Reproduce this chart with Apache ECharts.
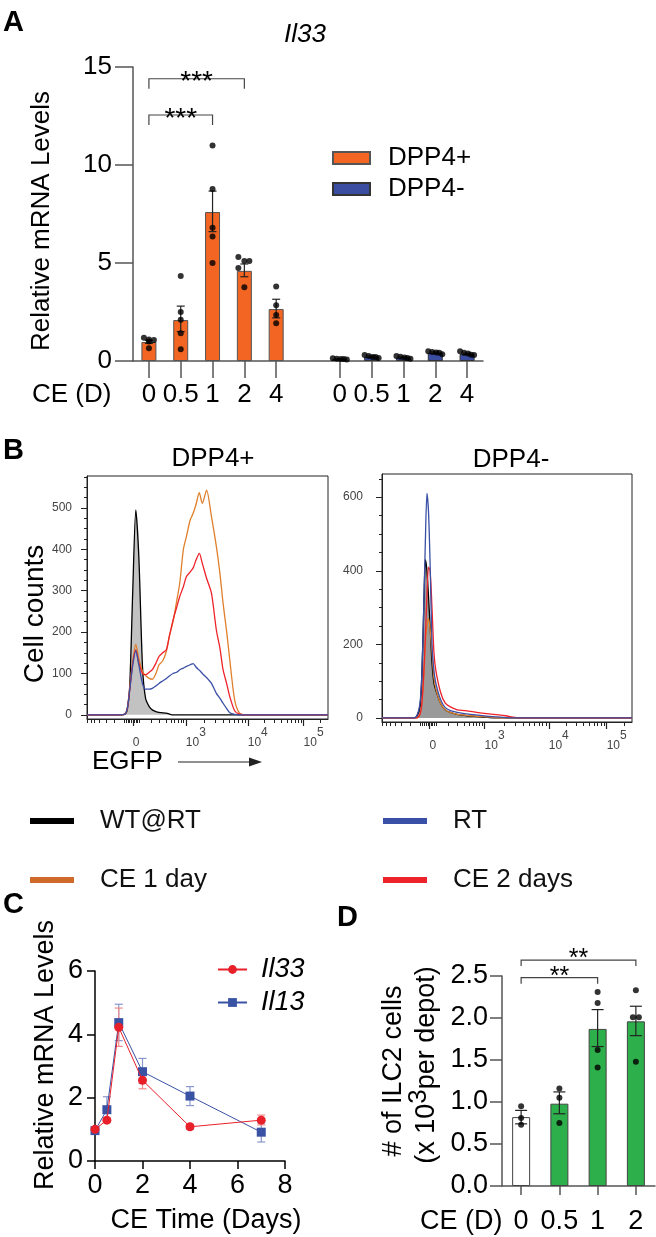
<!DOCTYPE html>
<html><head><meta charset="utf-8">
<script src="https://cdn.jsdelivr.net/npm/echarts@6/dist/echarts.min.js"></script>
<style>html,body{margin:0;padding:0;background:#fff}#c{width:656px;height:1237px}</style>
</head><body><div id="c"></div>
<script>
// ---------------- Panel A data ----------------
const catA = ['0','0.5','1','2','4','','0','0.5','1','2','4'];
const meanPos = [0.97, 2.09, 7.6, 4.6, 2.65];
const errPos = [[0.9,1.05],[1.5,2.8],[6.6,8.67],[4.3,4.95],[2.2,3.15]];
const ptsPos = [[1.19,1.1,1.07,1.0,0.65],[4.34,2.5,2.1,1.42,0.6],[11.0,8.77,6.8,6.35,5.0],[5.3,5.1,5.1,4.74,3.76],[3.8,2.85,2.35,1.93]];
const meanNeg = [0.1, 0.22, 0.18, 0.42, 0.36];
const errNeg = [[0.08,0.12],[0.18,0.26],[0.15,0.21],[0.38,0.46],[0.32,0.4]];
const ptsNeg = [[0.14,0.12,0.1,0.1,0.08],[0.3,0.25,0.2,0.2,0.15],[0.25,0.22,0.18,0.15,0.12],[0.5,0.46,0.44,0.42,0.35],[0.5,0.42,0.38,0.32,0.3]];
const sigA = [{from:0,to:2,y:12.55,label:'***'},{from:0,to:3,y:14.4,label:'***'}];

// ---------------- Panel B data (histograms, x in display units) ----------------
const dL = [-0.75,-0.2,-0.13,-0.09,-0.05,0,0.05,0.1,0.16,0.21,0.27,0.32,0.38,0.43,0.49,0.55,0.6,0.66,0.72,0.77,0.83,0.88,0.94,0.99,1.04,1.09,1.14,1.21,1.29,1.37,1.43,1.48,1.54,1.59,1.67,1.75,1.86,3.2];
const wtL  = [0,0,1,12,68,300,495,380,115,40,20,12,8,6,5,4,2,0,0,0,0,0,0,0,0,0,0,0,0,0,0,0,0,0,0,0,0,0];
const rtL  = [0,0,2,15,60,120,155,120,75,62,62,64,70,76,82,88,94,100,103,109,113,117,121,124,115,108,100,90,76,52,40,28,15,5,1,0,0,0];
const ce1L = [0,0,2,15,65,130,170,135,105,95,88,86,100,121,130,153,190,225,275,318,400,431,470,487,510,537,511,543,479,407,340,270,200,133,36,4,0,0];
const ce2L = [0,0,2,15,60,125,157,125,100,97,103,109,125,141,150,157,190,229,260,286,310,334,345,355,375,390,366,330,294,205,160,109,75,44,10,2,0,0];
const dR = [-0.75,-0.25,-0.2,-0.15,-0.12,-0.09,-0.065,-0.04,-0.015,0.01,0.04,0.07,0.1,0.175,0.25,0.33,0.44,0.55,0.65,0.8,0.9,1.05,1.2,1.3,1.4,3.2];
const wtR  = [0,0,5,30,120,300,430,400,330,250,150,95,75,40,22,15,10,7,5,3,2,0,0,0,0,0];
const rtR  = [0,0,5,40,120,300,480,610,560,420,200,130,95,50,28,20,15,12,10,7,5,3,1,0,0,0];
const ce1R = [0,0,0,10,40,110,200,250,270,240,180,110,80,40,22,15,10,8,6,4,3,1,0,0,0,0];
const ce2R = [0,0,0,10,40,120,220,330,410,400,300,180,130,70,40,30,22,20,18,14,12,9,6,3,0,0];
const xTickPosB = [0, 0.87, 1.885, 2.8];
const xTickLblB = ['0','10^3','10^4','10^5'];
const yTicksBL = [0,100,200,300,400,500];
const yTicksBR = [0,200,400,600];
const legendB = ['WT@RT','RT','CE 1 day','CE 2 days'];

// ---------------- Panel C data ----------------
const timeC = [0,0.5,1,2,4,7];
const il33 = [1.0,1.29,4.22,2.55,1.08,1.29];
const il33Err = [[0.95,1.05],[1.22,1.36],[3.62,4.83],[2.28,2.75],[1.0,1.15],[1.14,1.45]];
const il13 = [0.96,1.62,4.37,2.82,2.05,0.91];
const il13Err = [[0.88,1.04],[1.3,2.03],[3.8,4.95],[2.45,3.24],[1.75,2.35],[0.6,1.2]];

// ---------------- Panel D data ----------------
const catD = ['0','0.5','1','2'];
const meanD = [0.82,0.98,1.87,1.96];
const errD = [[0.74,0.9],[0.86,1.12],[1.66,2.1],[1.79,2.14]];
const ptsD = [[0.95,0.81,0.73],[1.16,1.05,0.75],[2.31,2.18,1.62,1.41],[2.33,2.01,2.01,1.48]];
const sigD = [{from:0,to:2,y:2.48,label:'**'},{from:0,to:3,y:2.69,label:'**'}];

// ---------------- styles ----------------
const FF = "'Liberation Sans', Arial, Helvetica, sans-serif";
const ORANGE = '#F26522', NAVY = '#3A4DA0', GREEN = '#2DB04B';
const C_WT = '#000000', C_RT = '#3A4FA6', C_CE1 = '#DF7F2C', C_CE2 = '#EE2229';
const jitPos = [[-5,0,5,0,0],[0,0,0,0,0],[0,0,0,0,0],[-6,5,0,-6,0],[0,0,0,0]];
const jitNeg = [-7,-3,1,4,7];
const jitD = [[0,0,0],[0,0,0],[0,0,0,0],[0,-3,3,0]];
const barColD = ['#ffffff', GREEN, GREEN, GREEN];

function errBar(cap, color, lw){
  return function(params, api){
    const x = api.value(0), lo = api.value(1), hi = api.value(2);
    const a = api.coord([x, lo]), b = api.coord([x, hi]);
    const h = cap/2, st = {stroke: color, lineWidth: lw};
    return {type:'group', children:[
      {type:'line', shape:{x1:a[0],y1:a[1],x2:b[0],y2:b[1]}, style:st},
      {type:'line', shape:{x1:b[0]-h,y1:b[1],x2:b[0]+h,y2:b[1]}, style:st},
      {type:'line', shape:{x1:a[0]-h,y1:a[1],x2:a[0]+h,y2:a[1]}, style:st}
    ]};
  };
}
function bracket(list, drop, font, dy){
  return function(params, api){
    const x1 = api.value(0), y = api.value(1), x2 = api.value(2);
    const p = api.coord([x1, y]), q = api.coord([x2, y]);
    return {type:'group', children:[
      {type:'polyline', shape:{points:[[p[0],p[1]+drop],[p[0],p[1]],[q[0],q[1]],[q[0],q[1]+drop]]}, style:{stroke:'#444', lineWidth:1.2, fill:null}},
      {type:'text', x:(p[0]+q[0])/2, y:p[1]+dy, style:{text:list[params.dataIndex].label, font:font, fill:'#000', align:'center', verticalAlign:'middle'}}
    ]};
  };
}
function minorTicksB(){
  const d3 = xTickPosB[1], d4 = xTickPosB[2], d5 = xTickPosB[3];
  const w2 = 0.82, w3 = d4 - d3, w4 = d5 - d4;
  const out = [];
  for (let m = 2; m <= 9; m++) {
    const l = Math.log10(m);
    out.push(d3 - (1 - l) * w2, -(d3 - (1 - l) * w2), d3 + l * w3, d4 + l * w4, d5 + l * w4);
  }
  [-0.14,-0.11,-0.08,-0.05,-0.025,0.025,0.05,0.08,0.11].forEach(v => out.push(v));
  return out.filter(v => v > -0.75 && v < 3.2);
}
const minorB = minorTicksB();
function supLabel(l){
  if (l.indexOf('^') >= 0) { const p = l.split('^'); return '{b|' + p[0] + '}{s|' + p[1] + '}'; }
  return '{b|' + l + '}';
}
const richB = {
  b: {fontSize: 12, fontFamily: FF, color: '#444', padding: [10,0,0,0]},
  s: {fontSize: 12, fontFamily: FF, color: '#444', padding: [0,0,10,0]}
};
const AX = '#555';
function catAxis(grid, data, tickLen, margin, fs, intervalFn){
  return {
    type:'category', gridIndex:grid, data:data, boundaryGap:true, position:'bottom',
    axisLine:{show:true, onZero:false, lineStyle:{color:AX, width:1.5}},
    axisTick:{show:true, alignWithLabel:true, interval: intervalFn || 0, length:tickLen, lineStyle:{color:AX, width:1.5}},
    axisLabel:{show:true, interval:0, fontSize:fs, fontFamily:FF, color:'#000', margin:margin, lineHeight:fs},
    splitLine:{show:false}
  };
}
function valAxis(grid, pos, min, max, interval, tickLen, margin, fs, color, fmt){
  const a = {
    type:'value', gridIndex:grid, position:pos, min:min, max:max, interval:interval,
    axisLine:{show:true, onZero:false, lineStyle:{color:color, width:1.5}},
    axisTick:{show:true, length:tickLen, lineStyle:{color:color, width:1.5}},
    axisLabel:{show:true, fontSize:fs, fontFamily:FF, color:'#000', margin:margin},
    splitLine:{show:false}
  };
  if (fmt) a.axisLabel.formatter = fmt;
  return a;
}

const axA = catAxis(0, catA.map((l,i)=> i + '|' + l), 17, 21, 26, (i)=> catA[i] !== '');
axA.axisLabel.formatter = v => String(v).split('|')[1];

const xAxes = [
  axA,
  {type:'value', gridIndex:1, position:'bottom', min:-0.75, max:3.2,
   axisLine:{show:true, onZero:false, lineStyle:{color:'#222', width:1}},
   axisTick:{show:true, customValues:xTickPosB, length:7, lineStyle:{color:'#222', width:1.2}},
   axisLabel:{show:true, customValues:xTickPosB, align:'left', margin:8, formatter:v=> supLabel(xTickLblB[xTickPosB.indexOf(v)] || ''), rich:richB},
   splitLine:{show:false}},
  {type:'value', gridIndex:1, position:'bottom', min:-0.75, max:3.2,
   axisLine:{show:false, onZero:false}, axisTick:{show:true, customValues:minorB, length:4, lineStyle:{color:'#222', width:1}},
   axisLabel:{show:false}, splitLine:{show:false}},
  {type:'value', gridIndex:2, position:'bottom', min:-0.75, max:3.2,
   axisLine:{show:true, onZero:false, lineStyle:{color:'#222', width:1}},
   axisTick:{show:true, customValues:xTickPosB, length:7, lineStyle:{color:'#222', width:1.2}},
   axisLabel:{show:true, customValues:xTickPosB, align:'left', margin:8, formatter:v=> supLabel(xTickLblB[xTickPosB.indexOf(v)] || ''), rich:richB},
   splitLine:{show:false}},
  {type:'value', gridIndex:2, position:'bottom', min:-0.75, max:3.2,
   axisLine:{show:false, onZero:false}, axisTick:{show:true, customValues:minorB, length:4, lineStyle:{color:'#222', width:1}},
   axisLabel:{show:false}, splitLine:{show:false}},
  valAxis(3, 'bottom', 0, 8, 2, 8, 11, 27, '#000'),
  catAxis(4, catD, 9, 22, 27)
];
function minorList(step, maxV, majors){
  const o = [];
  for (let v = step; v < maxV; v += step) if (majors.indexOf(v) < 0) o.push(v);
  return o;
}
const yAxes = [
  valAxis(0, 'left', 0, 15, 5, 18, 21, 26, AX),
  {type:'value', gridIndex:1, position:'left', min:-10, max:577,
   axisLine:{show:true, onZero:false, lineStyle:{color:'#222', width:1}},
   axisTick:{show:true, customValues:yTicksBL, length:6, lineStyle:{color:'#222'}},
   axisLabel:{show:true, customValues:yTicksBL, fontSize:12, fontFamily:FF, color:'#444', margin:15},
   splitLine:{show:false}},
  {type:'value', gridIndex:1, position:'left', min:-10, max:577,
   axisLine:{show:false, onZero:false}, axisTick:{show:true, customValues:minorList(25, 577, yTicksBL), length:3, lineStyle:{color:'#222'}},
   axisLabel:{show:false}, splitLine:{show:false}},
  {type:'value', gridIndex:2, position:'left', min:-11, max:663,
   axisLine:{show:true, onZero:false, lineStyle:{color:'#222', width:1}},
   axisTick:{show:true, customValues:yTicksBR, length:6, lineStyle:{color:'#222'}},
   axisLabel:{show:true, customValues:yTicksBR, fontSize:12, fontFamily:FF, color:'#444', margin:19},
   splitLine:{show:false}},
  {type:'value', gridIndex:2, position:'left', min:-11, max:663,
   axisLine:{show:false, onZero:false}, axisTick:{show:true, customValues:minorList(50, 663, yTicksBR), length:3, lineStyle:{color:'#222'}},
   axisLabel:{show:false}, splitLine:{show:false}},
  valAxis(3, 'left', 0, 6, 2, 8, 12, 27, '#000'),
  valAxis(4, 'left', 0, 2.5, 0.5, 12, 14, 27, AX, v => v.toFixed(1))
];

const series = [];
// ---- A ----
series.push({type:'bar', name:'DPP4+', xAxisIndex:0, yAxisIndex:0, barWidth:15, barGap:'-100%',
  data: meanPos.concat(catA.slice(5).map(()=> '-')),
  itemStyle:{color:ORANGE, borderColor:'#555', borderWidth:1}});
series.push({type:'bar', name:'DPP4-', xAxisIndex:0, yAxisIndex:0, barWidth:15, barGap:'-100%',
  data: catA.slice(0,6).map(()=> '-').concat(meanNeg),
  itemStyle:{color:NAVY, borderColor:'#333', borderWidth:1}});
series.push({type:'custom', xAxisIndex:0, yAxisIndex:0, z:3, renderItem:errBar(8, '#222', 1.2),
  data: errPos.map((e,i)=> [i, e[0], e[1]]).concat(errNeg.map((e,i)=> [i+6, e[0], e[1]]))});
const dotsA = [];
ptsPos.forEach((arr,i)=> arr.forEach((v,j)=> dotsA.push({value:[i, v], symbolOffset:[jitPos[i][j] || 0, 0]})));
ptsNeg.forEach((arr,i)=> arr.forEach((v,j)=> dotsA.push({value:[i+6, v], symbolOffset:[jitNeg[j], 0]})));
series.push({type:'scatter', xAxisIndex:0, yAxisIndex:0, z:4, symbolSize:6, itemStyle:{color:'#000'}, data:dotsA});
series.push({type:'custom', xAxisIndex:0, yAxisIndex:0, z:5, renderItem:bracket(sigA, 10, '28px ' + FF, 4),
  data: sigA.map(s=> [s.from, s.y, s.to])});

// ---- B ----
function hist(name, xs, ys, xi, yi, color, area){
  const s = {type:'line', name:name, xAxisIndex:xi, yAxisIndex:yi, showSymbol:false, symbol:'none', smooth:0.25,
    color:color, lineStyle:{color:color, width:1.3}, data: xs.map((d,i)=> [d, ys[i]])};
  if (area) s.areaStyle = {color:area, opacity:1};
  return s;
}
series.push(hist('WT@RT', dL, wtL, 1, 1, C_WT, '#C2C2C2'));
series.push(hist('CE 1 day', dL, ce1L, 1, 1, C_CE1));
series.push(hist('CE 2 days', dL, ce2L, 1, 1, C_CE2));
series.push(hist('RT', dL, rtL, 1, 1, C_RT));
series.push(hist('WT@RT', dR, wtR, 3, 3, C_WT, '#9A9A9A'));
series.push(hist('CE 1 day', dR, ce1R, 3, 3, C_CE1));
series.push(hist('CE 2 days', dR, ce2R, 3, 3, C_CE2));
series.push(hist('RT', dR, rtR, 3, 3, C_RT));

// ---- C ----
series.push({type:'custom', xAxisIndex:5, yAxisIndex:5, z:2, renderItem:errBar(8, '#8A97CF', 1.2),
  data: il13Err.map((e,i)=> [timeC[i], e[0], e[1]])});
series.push({type:'custom', xAxisIndex:5, yAxisIndex:5, z:2, renderItem:errBar(8, '#F08A8A', 1.2),
  data: il33Err.map((e,i)=> [timeC[i], e[0], e[1]])});
series.push({type:'line', name:'Il13', xAxisIndex:5, yAxisIndex:5, z:3, symbol:'rect', symbolSize:9, color:'#3A52A4',
  lineStyle:{width:1}, itemStyle:{color:'#3A52A4'}, data: timeC.map((t,i)=> [t, il13[i]])});
series.push({type:'line', name:'Il33', xAxisIndex:5, yAxisIndex:5, z:4, symbol:'circle', symbolSize:9, color:'#E8202A',
  lineStyle:{width:1}, itemStyle:{color:'#E8202A'}, data: timeC.map((t,i)=> [t, il33[i]])});

// ---- D ----
series.push({type:'bar', xAxisIndex:6, yAxisIndex:6, barWidth:18,
  data: meanD.map((v,i)=> ({value:v, itemStyle:{color:barColD[i]}})),
  itemStyle:{borderColor:'#444', borderWidth:1}});
series.push({type:'custom', xAxisIndex:6, yAxisIndex:6, z:3, renderItem:errBar(12, '#222', 1.2),
  data: errD.map((e,i)=> [i, e[0], e[1]])});
const dotsD = [];
ptsD.forEach((arr,i)=> arr.forEach((v,j)=> dotsD.push({value:[i, v], symbolOffset:[jitD[i][j], 0]})));
series.push({type:'scatter', xAxisIndex:6, yAxisIndex:6, z:4, symbolSize:6, itemStyle:{color:'#000'}, data:dotsD});
series.push({type:'custom', xAxisIndex:6, yAxisIndex:6, z:5, renderItem:bracket(sigD, 6, '25px ' + FF, -1),
  data: sigD.map(s=> [s.from, s.y, s.to])});

// ---- text ----
function T(text, x, y, o){
  o = o || {};
  return {type:'text', x:x, y:y, rotation:o.rot || 0, z:10,
    style:{text:text, fontSize:o.fs || 26, fontFamily:FF, fontWeight:o.fw || 'normal', fontStyle:o.st || 'normal',
      fill:'#000', align:o.al || 'center', verticalAlign:'middle', rich:o.rich}};
}
const R = Math.PI/2;
const graphic = [
  T('A', 3, 23, {fs:29, fw:'bold', al:'left'}),
  T('Il33', 305, 35, {st:'italic'}),
  T('Relative mRNA Levels', 42, 221, {rot:R}),
  T('CE (D)', 32, 395, {al:'left'}),
  T('B', 3, 451, {fs:29, fw:'bold', al:'left'}),
  T('DPP4+', 213, 459),
  T('DPP4-', 511, 460),
  T('Cell counts', 35, 614, {fs:28, rot:R}),
  T('EGFP', 92, 762, {al:'left'}),
  {type:'line', shape:{x1:178, y1:762, x2:252, y2:762}, style:{stroke:'#222', lineWidth:1.2}},
  {type:'polygon', shape:{points:[[249,757.5],[262,762],[249,766.5]]}, style:{fill:'#222'}},
  T('C', 3, 905, {fs:29, fw:'bold', al:'left'}),
  T('Relative mRNA Levels', 46, 1055, {fs:27, rot:R}),
  T('CE Time (Days)', 206, 1221, {fs:27}),
  T('D', 337, 918, {fs:29, fw:'bold', al:'left'}),
  T('CE (D)', 420, 1222, {fs:27, al:'left'}),
  T('# of ILC2 cells', 394, 1071, {fs:27, rot:R}),
  T('{n|(x 10}{s|3}{n|per depot)}', 427, 1065, {fs:27, rot:R,
    rich:{n:{fontSize:27, fontFamily:FF, fill:'#000'}, s:{fontSize:26, fontFamily:FF, fill:'#000', padding:[0,0,16,0]}}})
];

const option = {
  animation:false,
  backgroundColor:'#ffffff',
  textStyle:{fontFamily:FF},
  grid:[
    {left:133, top:67, width:350, height:294},
    {left:87, top:476, width:241, height:243, show:true, borderColor:'#222', borderWidth:1},
    {left:382, top:474, width:250, height:248, show:true, borderColor:'#222', borderWidth:1},
    {left:95, top:971, width:190, height:190},
    {left:502, top:976, width:153, height:210}
  ],
  xAxis:xAxes, yAxis:yAxes, series:series, graphic:graphic,
  legend:[
    {data:[{name:'DPP4+', icon:'rect'},{name:'DPP4-', icon:'rect'}], left:332, top:145, orient:'vertical', padding:0,
     itemWidth:37, itemHeight:12, itemGap:5, selectedMode:false,
     textStyle:{fontSize:26, fontFamily:FF, color:'#000', lineHeight:26, padding:[0,0,0,13]}},
    {data:[{name:legendB[0], icon:'rect', itemStyle:{color:C_WT}},{name:legendB[2], icon:'rect', itemStyle:{color:'#CF6B2A'}}], left:30, top:808, orient:'vertical', padding:0,
     itemWidth:44, itemHeight:6, itemGap:33, selectedMode:false,
     textStyle:{fontSize:26, fontFamily:FF, color:'#111', lineHeight:26, padding:[0,0,0,21]}},
    {data:[{name:legendB[1], icon:'rect', itemStyle:{color:C_RT}},{name:legendB[3], icon:'rect', itemStyle:{color:C_CE2}}], left:383, top:808, orient:'vertical', padding:0,
     itemWidth:44, itemHeight:6, itemGap:33, selectedMode:false,
     textStyle:{fontSize:26, fontFamily:FF, color:'#111', lineHeight:26, padding:[0,0,0,21]}},
    {data:['Il33','Il13'], left:217, top:956, orient:'vertical', padding:0,
     itemWidth:29, itemHeight:11, itemGap:6, selectedMode:false,
     textStyle:{fontSize:27, fontFamily:FF, fontStyle:'italic', color:'#000', lineHeight:27, padding:[0,0,0,9]}}
  ]
};
const chart = echarts.init(document.getElementById('c'), null, {renderer:'canvas', width:656, height:1237});
chart.setOption(option);
</script></body></html>
